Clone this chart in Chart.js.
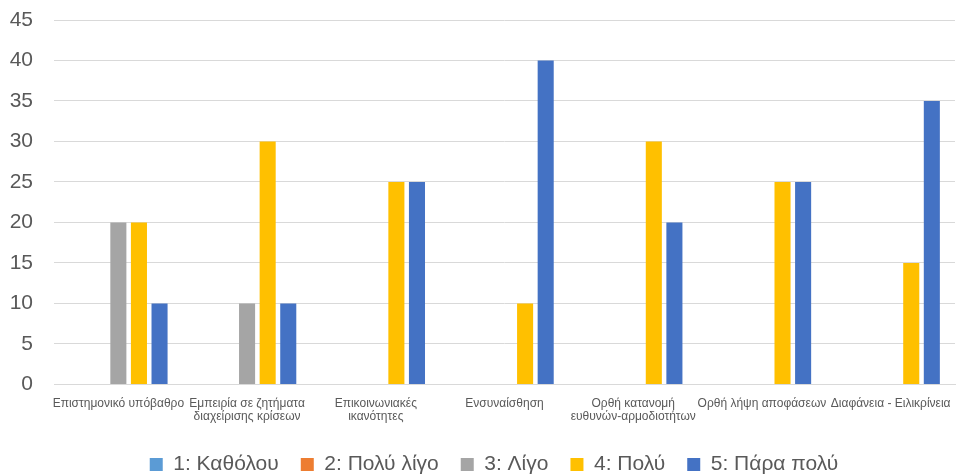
<!DOCTYPE html>
<html>
<head>
<meta charset="utf-8">
<script src="https://cdn.jsdelivr.net/npm/chart.js@4/dist/chart.umd.min.js"></script>
<style>
  html, body { margin: 0; padding: 0; background: #fff; }
  #wrap { width: 959px; height: 476px; }
</style>
</head>
<body>
<div id="wrap"><canvas id="skillsChart"></canvas></div>
<script>
var categories = [
    "Επιστημονικό υπόβαθρο",
    ["Εμπειρία σε ζητήματα", "διαχείρισης κρίσεων"],
    ["Επικοινωνιακές", "ικανότητες"],
    "Ενσυναίσθηση",
    ["Ορθή κατανομή", "ευθυνών-αρμοδιοτήτων"],
    "Ορθή λήψη αποφάσεων",
    "Διαφάνεια - Ειλικρίνεια"
];

var seriesNames = ["1: Καθόλου", "2: Πολύ λίγο", "3: Λίγο", "4: Πολύ", "5: Πάρα πολύ"];

var katholou  = [0, 0, 0, 0, 0, 0, 0];
var polyLigo  = [0, 0, 0, 0, 0, 0, 0];
var ligo      = [20, 10, 0, 0, 0, 0, 0];
var poly      = [20, 30, 25, 10, 30, 25, 15];
var paraPoly  = [10, 10, 25, 40, 20, 25, 35];

var yTicks = [0, 5, 10, 15, 20, 25, 30, 35, 40, 45];

var colors = ["#5B9BD5", "#ED7D31", "#A5A5A5", "#FFC000", "#4472C4"];
var values = [katholou, polyLigo, ligo, poly, paraPoly];

var datasets = seriesNames.map(function (name, i) {
    return {
        label: name,
        data: values[i],
        backgroundColor: colors[i],
        borderWidth: 0,
        categoryPercentage: 0.8,
        barPercentage: 0.78
    };
});

var ctx = document.getElementById("skillsChart");

var skillsChart = new Chart(ctx, {
    type: 'bar',
    data: {
        labels: categories,
        datasets: datasets
    },
    options: {
        responsive: true,
        maintainAspectRatio: false,
        animation: false,
        layout: {
            padding: { left: 9, right: -20, top: 20, bottom: -9 }
        },
        plugins: {
            legend: {
                position: 'bottom',
                labels: {
                    boxWidth: 13,
                    boxHeight: 13,
                    padding: 22,
                    color: '#595959',
                    font: { family: 'Liberation Sans', size: 21 }
                }
            },
            tooltip: { enabled: false }
        },
        scales: {
            x: {
                grid: { display: false },
                border: { color: '#d9d9d9' },
                ticks: {
                    autoSkip: false,
                    maxRotation: 0,
                    minRotation: 0,
                    color: '#595959',
                    font: { family: 'Liberation Sans', size: 12, lineHeight: 1.15 },
                    padding: 4
                },
                afterFit: function (scale) {
                    scale.height += 4;
                }
            },
            y: {
                min: yTicks[0],
                max: yTicks[yTicks.length - 1],
                // invisible tick marks give the gap between labels and grid
                grid: { color: '#d9d9d9', drawTicks: true, tickLength: 17, tickColor: 'rgba(0,0,0,0)' },
                border: { display: false },
                ticks: {
                    stepSize: yTicks[1] - yTicks[0],
                    color: '#595959',
                    padding: 4,
                    font: { family: 'Liberation Sans', size: 21 }
                },
                afterFit: function (scale) {
                    scale.width = 45;
                }
            },
            // empty right-hand spacer, keeps the plot inside the canvas
            spacer: {
                type: 'linear',
                position: 'right',
                grid: { display: false },
                border: { display: false },
                ticks: { display: false },
                afterFit: function (scale) {
                    scale.width = 24;
                }
            }
        }
    }
});
</script>
</body>
</html>
